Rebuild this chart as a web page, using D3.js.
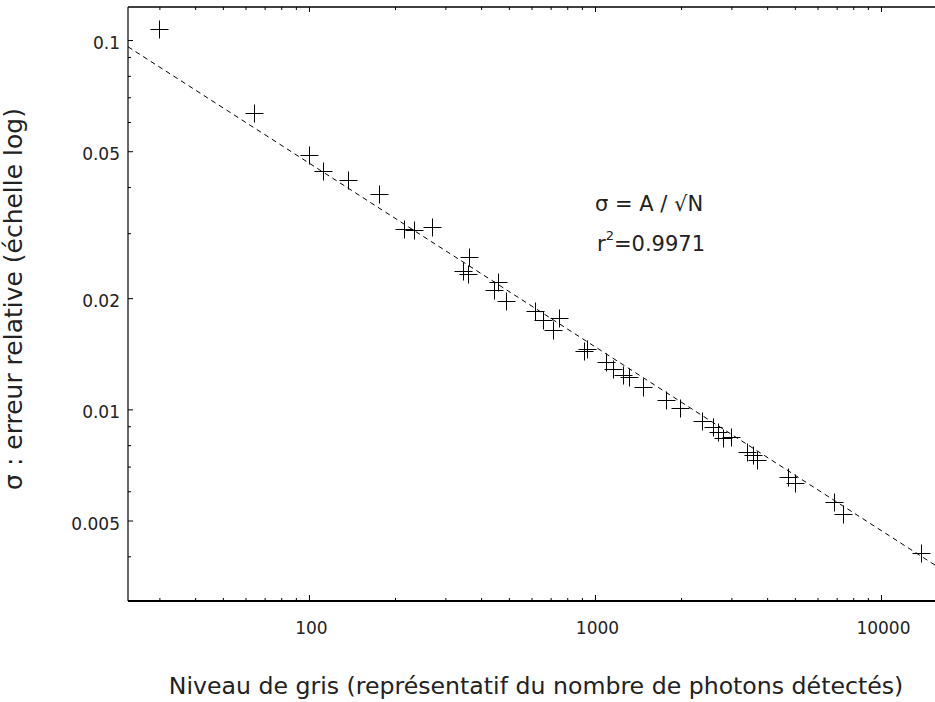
<!DOCTYPE html>
<html><head><meta charset="utf-8">
<script src="https://cdn.jsdelivr.net/npm/d3@7"></script>
<style>
body{margin:0;background:#fff}
text{font-family:"DejaVu Sans",sans-serif;fill:#222}
</style>
</head><body>
<svg id="chart" width="935" height="702"></svg>
<script>
// ---- data ----
const grayLevel = [30, 64.2, 100, 111.7, 137.2, 175.2, 215.4, 233.4, 268.6, 364, 346.3, 360.6,
  459.8, 444.5, 490.4, 616.9, 660.7, 750.3, 714.9, 915.2, 937.6, 1092.7, 1156, 1256, 1315, 1468,
  1772, 1983, 2372, 2592, 2698, 2810, 2982, 3408, 3577, 3694, 4743, 5006, 6850, 7383, 13766];
const relError = [0.1069, 0.0633, 0.0488, 0.0442, 0.0418, 0.0384, 0.0308, 0.0306, 0.0312, 0.0259, 0.0237, 0.0232,
  0.0221, 0.0210, 0.0196, 0.01845, 0.0175, 0.01763, 0.01639, 0.01438, 0.01456, 0.01345, 0.01285, 0.01239, 0.0122, 0.01152,
  0.0106, 0.01008, 0.00929, 0.00898, 0.0087, 0.00836, 0.0084, 0.00768, 0.00752, 0.00731, 0.00657, 0.00632, 0.0056, 0.00521, 0.00409];
const fitX = [23.3, 15450];
const fitY = [0.0959, 0.003787];
const xDomain = [23.3, 15450];
const yDomain = [0.003027, 0.1229];
const xTickLabels = [100, 1000, 10000];
const xMinorTicks = [30,40,50,60,70,80,90,200,300,400,500,600,700,800,900,2000,3000,4000,5000,6000,7000,8000,9000];
const yTickLabels = [0.1, 0.05, 0.02, 0.01, 0.005];
const yMinorTicks = [0.004,0.006,0.007,0.008,0.009,0.03,0.04,0.06,0.07,0.08,0.09];
const xTitle = "Niveau de gris (représentatif du nombre de photons détectés)";
const yTitle = "σ : erreur relative (échelle log)";
const fitLabel = "σ = A / √N";
const r2Label = "=0.9971";

// ---- layout ----
const L = 128, R = 935, T = 7, B = 601;
const svg = d3.select("#chart");
const x = d3.scaleLog().domain(xDomain).range([L, R]);
const y = d3.scaleLog().domain(yDomain).range([B, T]);
const fmt = d => String(d);

// bottom axis
const gB = svg.append("g").attr("transform", `translate(0,${B})`);
gB.call(d3.axisBottom(x).tickValues(xTickLabels).tickSize(-6).tickFormat(fmt).tickPadding(21))
  .call(g => g.select(".domain").remove());
gB.selectAll(".tick line").attr("stroke", "#000");
gB.selectAll(".tick text").attr("font-size", 17).attr("fill", "#222").attr("dx", 2);
gB.append("g").call(d3.axisBottom(x).tickValues(xMinorTicks).tickSize(-3).tickFormat(""))
  .call(g => g.select(".domain").remove())
  .selectAll("line").attr("stroke", "#000");
gB.append("line").attr("x1", L).attr("x2", R).attr("stroke", "#000").attr("stroke-width", 2);

// top axis (ticks only)
const gT = svg.append("g").attr("transform", `translate(0,${T})`);
gT.call(d3.axisTop(x).tickValues(xTickLabels).tickSize(-5).tickFormat(""))
  .call(g => g.select(".domain").remove());
gT.append("g").call(d3.axisTop(x).tickValues(xMinorTicks).tickSize(-3).tickFormat(""))
  .call(g => g.select(".domain").remove());
gT.selectAll("line").attr("stroke", "#000");
gT.append("line").attr("x1", L).attr("x2", R).attr("stroke", "#000").attr("stroke-width", 1.5);

// left axis
const gL = svg.append("g").attr("transform", `translate(${L},0)`);
gL.call(d3.axisLeft(y).tickValues(yTickLabels).tickSize(-5).tickFormat(fmt).tickPadding(8))
  .call(g => g.select(".domain").remove());
gL.selectAll(".tick line").attr("stroke", "#000");
gL.selectAll(".tick text").attr("font-size", 17).attr("fill", "#222").attr("dy", "0.5em");
gL.append("g").call(d3.axisLeft(y).tickValues(yMinorTicks).tickSize(-3).tickFormat(""))
  .call(g => g.select(".domain").remove())
  .selectAll("line").attr("stroke", "#000");
gL.append("line").attr("y1", T).attr("y2", B).attr("stroke", "#000").attr("stroke-width", 1.2);

// fit line
const fit = fitX.map((v, i) => ({x: v, y: fitY[i]}));
svg.append("path").datum(fit)
  .attr("d", d3.line().x(d => x(d.x)).y(d => y(d.y)))
  .attr("fill", "none").attr("stroke", "#000").attr("stroke-width", 1)
  .attr("stroke-dasharray", "5,4");

// data crosses
const pts = grayLevel.map((v, i) => ({x: v, y: relError[i]}));
const s = 9;
svg.append("g").selectAll("path").data(pts).join("path")
  .attr("d", d => {
    const cx = Math.round(x(d.x)) + 0.5, cy = Math.round(y(d.y)) + 0.5;
    return `M${cx - s},${cy}H${cx + s}M${cx},${cy - s}V${cy + s}`;
  })
  .attr("stroke", "#000").attr("stroke-width", 1).attr("fill", "none");

// annotation
svg.append("text").attr("x", 595).attr("y", 211).attr("font-size", 21).text(fitLabel);
const r2 = svg.append("text").attr("x", 597).attr("y", 251).attr("font-size", 21);
r2.append("tspan").text("r");
r2.append("tspan").attr("font-size", 13).attr("dy", -11).text("2");
r2.append("tspan").attr("dy", 11).text(r2Label);

// axis titles
const xt = svg.append("text").attr("x", 536).attr("y", 694).attr("text-anchor", "middle")
  .attr("font-size", 20).text(xTitle);
const xl = xt.node().getComputedTextLength();
xt.attr("font-size", 20 * 735 / xl);
const yt = svg.append("text").attr("transform", "translate(22,299) rotate(-90)")
  .attr("text-anchor", "middle").attr("font-size", 20).text(yTitle);
const yl = yt.node().getComputedTextLength();
yt.attr("font-size", 20 * 382 / yl);
</script>
</body></html>
